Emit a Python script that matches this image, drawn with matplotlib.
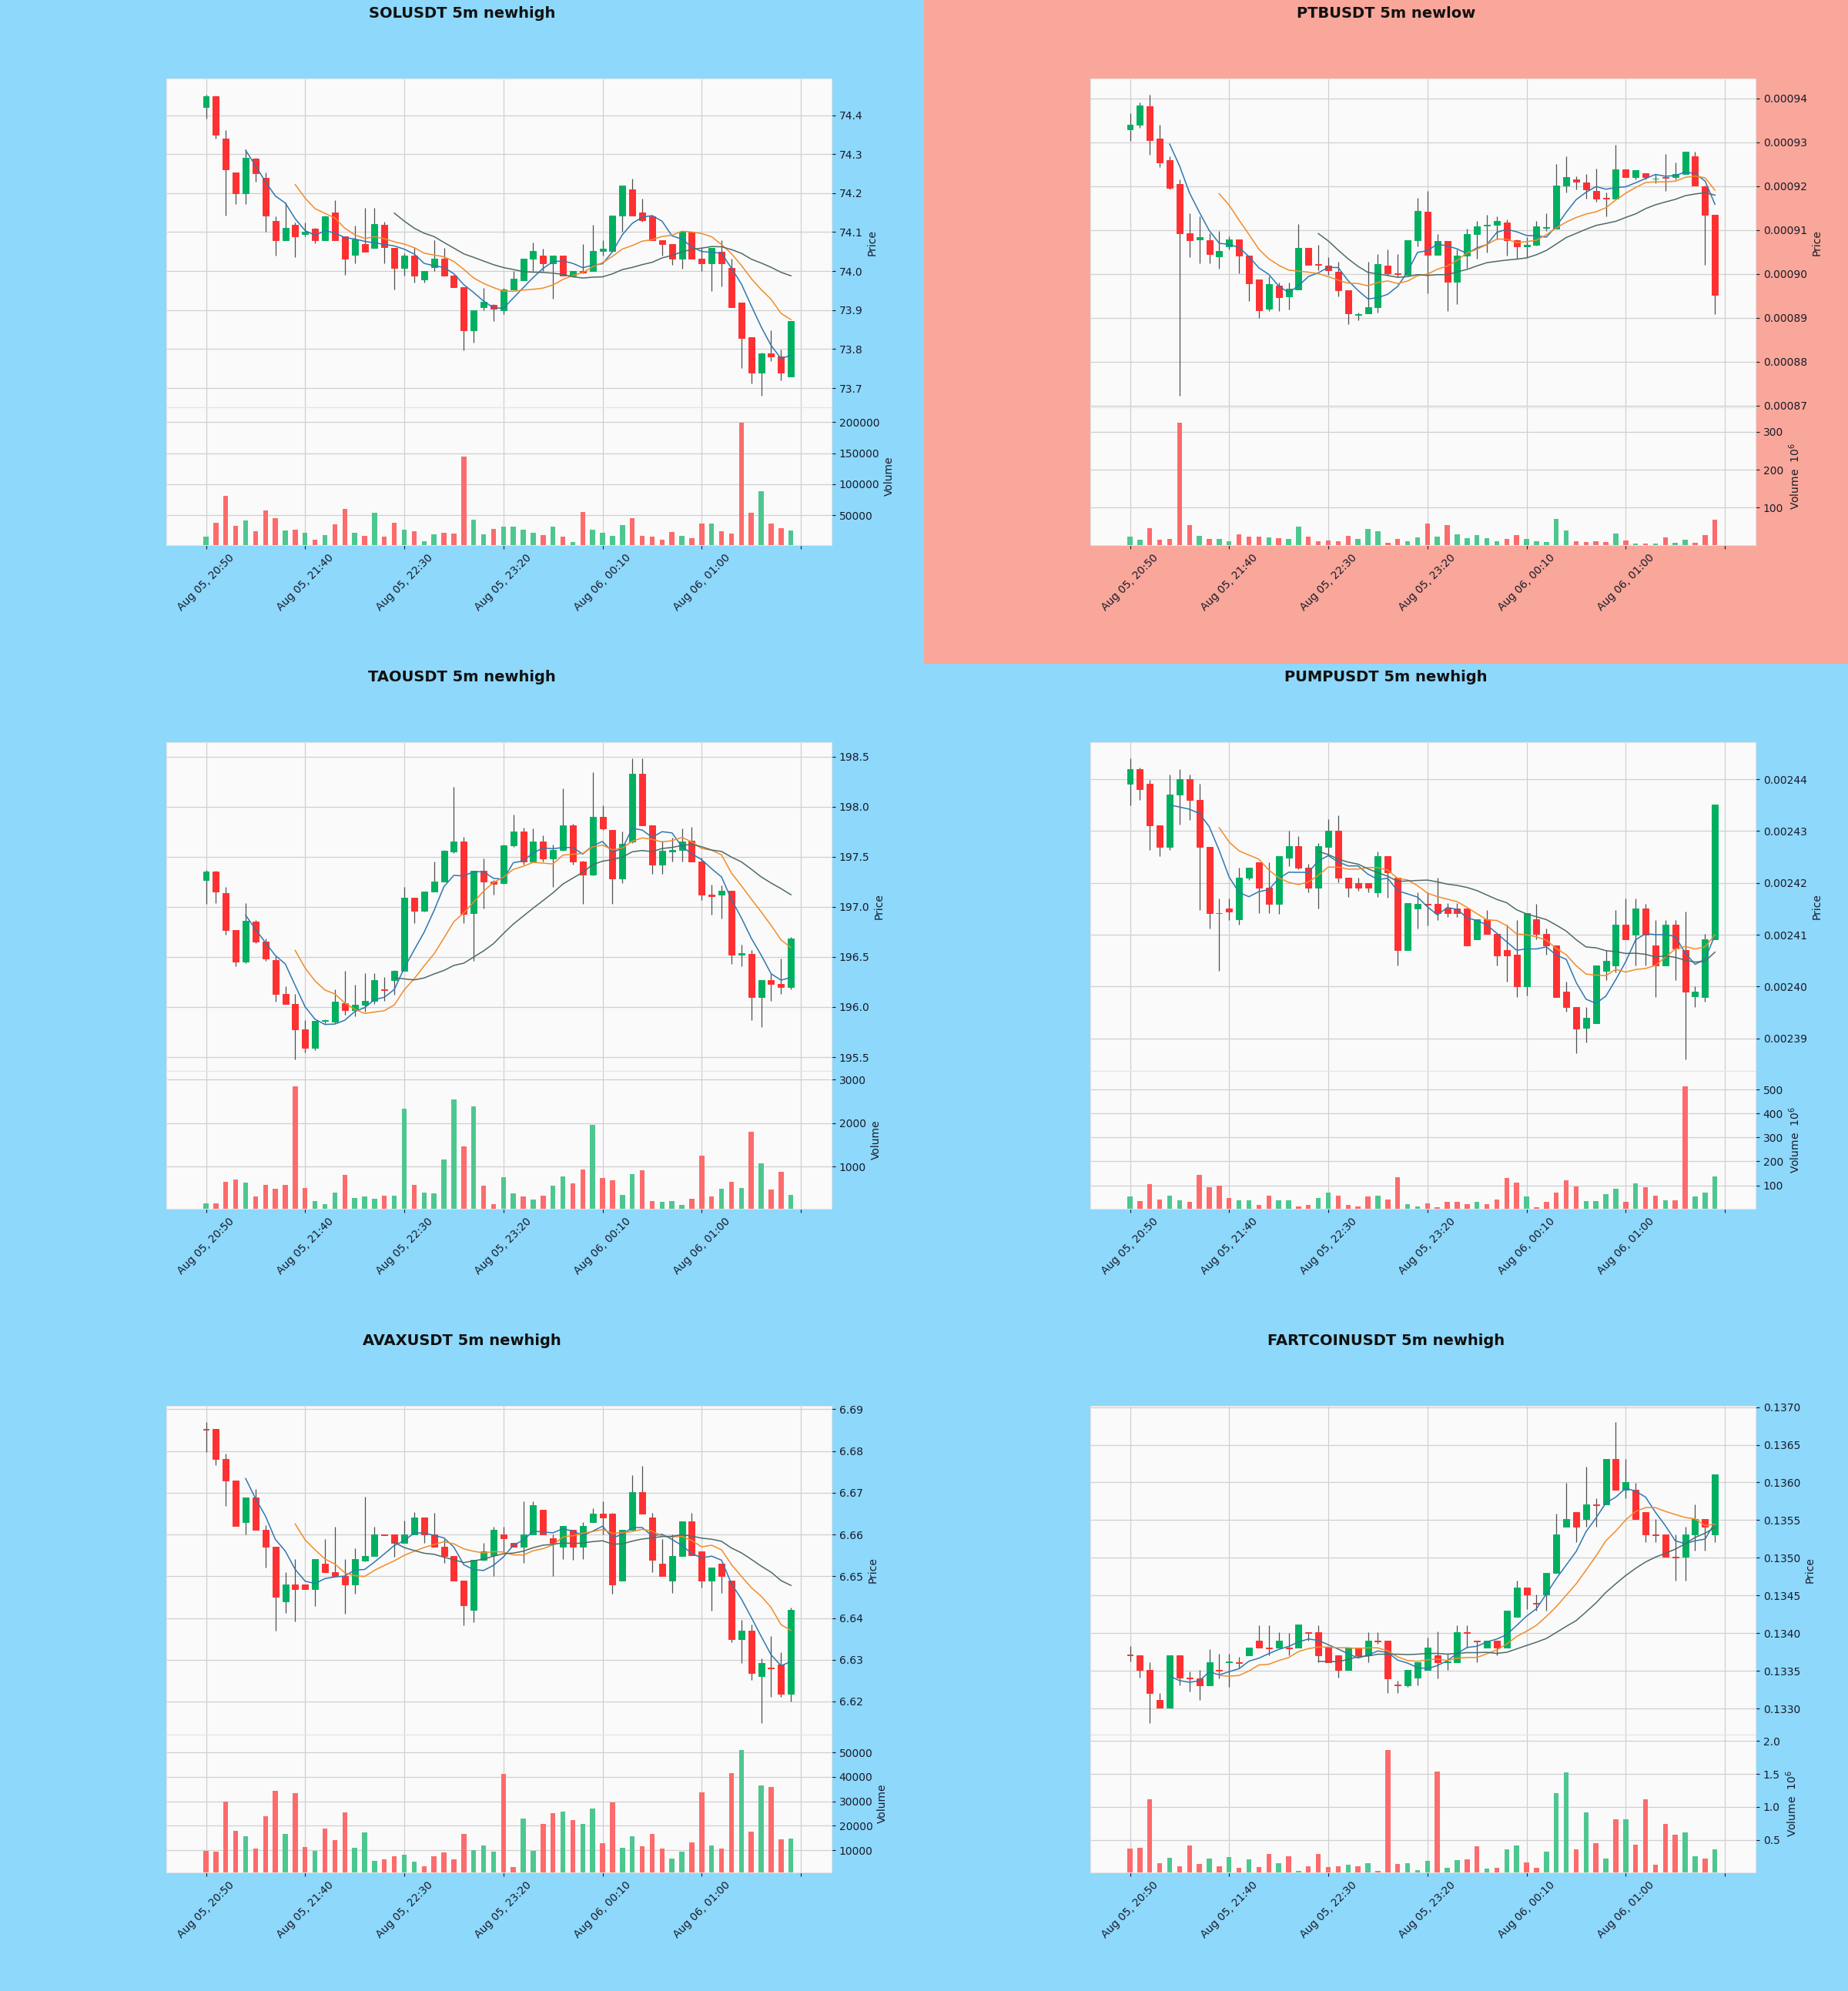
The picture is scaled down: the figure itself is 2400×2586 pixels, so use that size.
import numpy as np
import matplotlib.pyplot as plt
from matplotlib.ticker import MultipleLocator, FormatStrFormatter

TIME_LABELS = ["Aug 05, 20:50", "Aug 05, 21:40", "Aug 05, 22:30",
               "Aug 05, 23:20", "Aug 06, 00:10", "Aug 06, 01:00", ""]

UP = "#00b060"
DOWN = "#fe3032"
VOL_UP = "#4dc790"
VOL_DOWN = "#fd6b6c"
WICK = "#505050"
MA_COLORS = ["#2e78b0", "#f28c28", "#4f6b68"]
BLUE_BG = "#8dd8fb"
SALMON_BG = "#f8a79a"

###################################################
# SOLUSDT
###################################################
sol_open = [74.421, 74.449, 74.34, 74.252, 74.2, 74.289, 74.24, 74.128, 74.079, 74.119,
            74.095, 74.108, 74.079, 74.151, 74.089, 74.041, 74.07, 74.06, 74.119, 74.06,
            74.009, 74.04, 73.978, 74.01, 74.031, 73.988, 73.959, 73.848, 73.907, 73.913,
            73.9, 73.952, 73.977, 74.031, 74.04, 74.019, 74.04, 73.988, 74.0, 74.0,
            74.052, 74.052, 74.142, 74.21, 74.151, 74.141, 74.079, 74.07, 74.031, 74.1,
            74.031, 74.019, 74.05, 74.009, 73.92, 73.83, 73.74, 73.788, 73.781, 73.729]
sol_close = [74.449, 74.349, 74.26, 74.2, 74.291, 74.251, 74.142, 74.079, 74.11, 74.089,
             74.1, 74.079, 74.141, 74.079, 74.031, 74.081, 74.05, 74.12, 74.062, 74.009,
             74.04, 73.988, 74.0, 74.031, 73.988, 73.959, 73.848, 73.899, 73.921, 73.903,
             73.952, 73.98, 74.031, 74.052, 74.019, 74.04, 73.988, 74.0, 73.996, 74.052,
             74.058, 74.142, 74.219, 74.142, 74.13, 74.079, 74.07, 74.031, 74.1, 74.031,
             74.019, 74.06, 74.019, 73.908, 73.829, 73.74, 73.788, 73.781, 73.74, 73.872]
sol_high = [74.452, 74.45, 74.361, 74.252, 74.312, 74.291, 74.252, 74.14, 74.175, 74.125,
            74.124, 74.11, 74.143, 74.182, 74.09, 74.116, 74.163, 74.163, 74.126, 74.06,
            74.046, 74.062, 74.0, 74.079, 74.06, 73.99, 73.959, 73.899, 73.957, 73.916,
            73.957, 74.0, 74.031, 74.074, 74.058, 74.04, 74.04, 74.0, 74.07, 74.118,
            74.08, 74.142, 74.219, 74.238, 74.186, 74.141, 74.079, 74.07, 74.1, 74.1,
            74.06, 74.06, 74.079, 74.031, 73.92, 73.83, 73.79, 73.848, 73.798, 73.872]
sol_low = [74.392, 74.34, 74.142, 74.171, 74.171, 74.229, 74.1, 74.04, 74.079, 74.035,
           74.089, 74.071, 74.079, 74.079, 73.99, 74.019, 74.05, 74.06, 74.019, 73.952,
           73.988, 73.97, 73.97, 74.0, 73.988, 73.959, 73.796, 73.817, 73.9, 73.872,
           73.889, 73.952, 73.977, 74.0, 74.0, 73.93, 73.988, 73.984, 73.995, 74.0,
           74.04, 74.052, 74.1, 74.142, 74.126, 74.079, 74.04, 74.016, 74.006, 74.031,
           74.0, 73.949, 73.96, 73.908, 73.751, 73.712, 73.681, 73.77, 73.72, 73.729]
sol_volume = [15000, 38000, 81000, 33000, 41000, 24000, 58000, 45000, 25000, 26000,
              21000, 11000, 18000, 35000, 60000, 22000, 17000, 54000, 16000, 38000,
              26000, 24000, 8000, 19000, 22000, 20000, 145000, 43000, 19000, 28000,
              32000, 32000, 26000, 21000, 18000, 32000, 15000, 7000, 55000, 27000,
              22000, 17000, 34000, 45000, 17000, 15000, 11000, 23000, 17000, 13000,
              37000, 36000, 24000, 20000, 199000, 54000, 89000, 37000, 29000, 25000]

###################################################
# PTBUSDT (prices in 1e-5, volume in 1e6)
###################################################
ptb_open = [93.29, 93.40, 93.82, 93.08, 92.59, 92.05, 90.93, 90.79, 90.77, 90.40,
            90.62, 90.79, 90.42, 89.87, 89.20, 89.73, 89.49, 89.65, 90.59, 90.23,
            90.19, 90.04, 89.63, 89.07, 89.10, 89.24, 90.19, 90.02, 89.97, 90.76,
            91.41, 90.43, 90.75, 89.82, 90.42, 90.90, 91.10, 91.12, 91.17, 90.76,
            90.62, 90.66, 91.04, 91.03, 92.01, 92.16, 92.08, 91.89, 91.73, 91.72,
            92.39, 92.20, 92.30, 92.17, 92.20, 92.20, 92.28, 92.68, 91.99, 91.34]
ptb_close = [93.40, 93.84, 93.05, 92.54, 91.96, 90.92, 90.77, 90.83, 90.45, 90.52,
             90.79, 90.42, 89.79, 89.17, 89.77, 89.47, 89.66, 90.59, 90.21, 90.20,
             90.09, 89.63, 89.10, 89.09, 89.24, 90.23, 90.02, 90.00, 90.77, 91.43,
             90.43, 90.75, 89.82, 90.42, 90.90, 91.08, 91.12, 91.21, 90.77, 90.62,
             90.66, 91.08, 91.06, 92.01, 92.21, 92.10, 91.92, 91.71, 91.71, 92.39,
             92.20, 92.37, 92.20, 92.17, 92.19, 92.27, 92.78, 92.01, 91.34, 89.53]
ptb_high = [93.67, 93.90, 94.08, 93.40, 92.68, 92.16, 91.38, 91.31, 90.93, 90.98,
            90.86, 90.79, 90.42, 89.87, 89.94, 89.80, 89.80, 91.14, 90.59, 90.66,
            90.38, 90.28, 89.63, 89.12, 90.28, 90.45, 90.55, 90.45, 90.77, 91.73,
            91.89, 90.90, 90.75, 90.55, 91.03, 91.21, 91.34, 91.31, 91.24, 90.79,
            90.83, 91.21, 91.38, 92.51, 92.68, 92.23, 92.27, 92.40, 91.86, 92.94,
            92.39, 92.37, 92.30, 92.27, 92.73, 92.54, 92.78, 92.78, 92.01, 91.34]
ptb_low = [93.03, 93.33, 92.71, 92.44, 91.92, 87.23, 90.38, 90.25, 90.25, 90.11,
           90.55, 90.01, 89.39, 88.99, 89.15, 89.15, 89.18, 89.65, 90.21, 90.08,
           89.97, 89.49, 88.86, 88.95, 89.10, 89.12, 89.97, 89.95, 89.97, 90.62,
           89.56, 90.43, 89.15, 89.32, 90.14, 90.34, 90.49, 90.79, 90.42, 90.35,
           90.38, 90.64, 90.97, 91.03, 91.86, 91.92, 91.71, 91.65, 91.32, 91.72,
           92.20, 92.16, 92.16, 92.06, 91.89, 92.16, 92.28, 92.01, 90.21, 89.08]
ptb_volume = [23, 15, 45, 15, 16, 324, 54, 25, 16, 16,
              11, 29, 23, 23, 20, 19, 16, 49, 23, 11,
              12, 11, 25, 16, 43, 37, 7, 16, 11, 21,
              58, 23, 53, 29, 19, 27, 19, 11, 17, 28,
              17, 11, 8, 70, 39, 11, 9, 11, 9, 31,
              13, 5, 5, 4, 21, 7, 15, 7, 28, 67]

###################################################
# TAOUSDT
###################################################
tao_open = [197.27, 197.35, 197.14, 196.77, 196.45, 196.85, 196.65, 196.47, 196.13, 196.03,
            195.78, 195.59, 195.86, 195.85, 196.04, 195.97, 196.02, 196.06, 196.18, 196.27,
            196.36, 197.09, 196.96, 197.15, 197.25, 197.55, 197.65, 196.94, 197.36, 197.25,
            197.24, 197.61, 197.75, 197.45, 197.65, 197.48, 197.57, 197.81, 197.45, 197.32,
            197.90, 197.77, 197.28, 197.65, 198.33, 197.81, 197.42, 197.55, 197.57, 197.66,
            197.45, 197.12, 197.12, 197.16, 196.52, 196.53, 196.10, 196.27, 196.23, 196.20]
tao_close = [197.35, 197.15, 196.77, 196.45, 196.86, 196.65, 196.48, 196.13, 196.03, 195.78,
             195.59, 195.86, 195.87, 196.05, 195.97, 196.02, 196.06, 196.27, 196.17, 196.36,
             197.09, 196.96, 197.15, 197.25, 197.56, 197.65, 196.93, 197.36, 197.25, 197.23,
             197.61, 197.75, 197.45, 197.65, 197.48, 197.57, 197.81, 197.45, 197.32, 197.90,
             197.78, 197.28, 197.63, 198.33, 197.81, 197.42, 197.56, 197.57, 197.65, 197.45,
             197.12, 197.11, 197.16, 196.52, 196.54, 196.10, 196.27, 196.23, 196.20, 196.68]
tao_high = [197.37, 197.36, 197.20, 196.77, 197.04, 196.87, 196.68, 196.51, 196.21, 196.13,
            195.87, 195.86, 195.88, 196.18, 196.36, 196.22, 196.34, 196.34, 196.30, 196.37,
            197.20, 197.09, 197.15, 197.45, 197.57, 198.20, 197.70, 197.36, 197.48, 197.27,
            197.62, 197.92, 197.79, 197.78, 197.71, 197.62, 198.18, 197.83, 197.46, 198.34,
            198.01, 197.77, 197.75, 198.48, 198.48, 197.81, 197.66, 197.69, 197.78, 197.80,
            197.49, 197.22, 197.21, 197.16, 196.62, 196.57, 196.27, 196.33, 196.48, 196.70]
tao_low = [197.03, 197.04, 196.72, 196.41, 196.44, 196.64, 196.46, 196.05, 196.03, 195.48,
           195.55, 195.57, 195.84, 195.84, 195.92, 195.91, 195.95, 196.03, 196.06, 196.12,
           196.36, 196.84, 196.95, 197.15, 197.25, 197.54, 196.84, 196.46, 196.98, 197.12,
           197.23, 197.60, 197.42, 197.45, 197.45, 197.20, 197.56, 197.42, 197.03, 197.31,
           197.77, 197.03, 197.24, 197.64, 197.81, 197.33, 197.33, 197.45, 197.45, 197.45,
           197.07, 196.92, 196.88, 196.43, 196.41, 195.87, 195.80, 196.06, 196.13, 196.18]
tao_volume = [150, 150, 650, 700, 630, 310, 590, 500, 590, 2840,
              510, 210, 140, 410, 810, 290, 310, 270, 330, 330,
              2330, 590, 410, 380, 1160, 2540, 1460, 2390, 570, 140,
              760, 390, 310, 250, 330, 560, 770, 610, 940, 1960,
              750, 690, 360, 830, 910, 210, 200, 210, 130, 260,
              1260, 310, 500, 650, 510, 1810, 1080, 470, 890, 360]

###################################################
# PUMPUSDT (prices in 1e-5, volume in 1e6)
###################################################
pump_open = [243.92, 244.20, 243.91, 243.11, 242.70, 243.70, 244.00, 243.60, 242.70, 241.42,
             241.50, 241.30, 242.10, 242.40, 241.91, 241.60, 242.49, 242.71, 242.29, 241.91,
             242.70, 243.01, 242.10, 242.00, 242.00, 241.82, 242.51, 242.10, 240.71, 241.50,
             241.60, 241.60, 241.50, 241.50, 241.50, 240.91, 241.30, 241.01, 240.71, 240.62,
             240.00, 241.30, 241.01, 240.80, 239.90, 239.60, 239.20, 239.30, 240.31, 240.40,
             241.20, 241.00, 241.50, 240.80, 240.40, 241.20, 240.71, 239.82, 239.80, 240.91]
pump_close = [244.20, 243.81, 243.11, 242.70, 243.70, 244.00, 243.60, 242.70, 241.42, 241.41,
              241.44, 242.10, 242.30, 241.91, 241.60, 242.51, 242.71, 242.29, 241.91, 242.71,
              243.01, 242.10, 241.91, 241.91, 241.91, 242.51, 242.20, 240.71, 241.61, 241.60,
              241.58, 241.42, 241.42, 241.42, 240.80, 241.30, 241.01, 240.60, 240.60, 240.00,
              241.42, 241.01, 240.80, 239.80, 239.60, 239.19, 239.39, 240.40, 240.50, 241.20,
              240.91, 241.50, 241.00, 240.40, 241.20, 240.74, 239.90, 239.90, 240.91, 243.51]
pump_high = [244.40, 244.22, 243.99, 243.11, 244.09, 244.19, 244.09, 243.92, 242.70, 241.70,
             241.70, 242.29, 242.30, 242.40, 242.40, 242.51, 243.00, 242.90, 242.37, 242.77,
             243.23, 243.31, 242.10, 242.10, 242.00, 242.61, 242.51, 242.10, 241.61, 241.82,
             241.82, 242.10, 241.61, 241.61, 241.50, 241.30, 241.48, 241.01, 241.20, 241.29,
             241.42, 241.60, 241.12, 240.80, 240.09, 239.60, 239.60, 240.40, 240.71, 241.48,
             241.70, 241.70, 241.60, 241.29, 241.29, 241.29, 241.44, 240.01, 241.01, 243.51]
pump_low = [243.49, 243.60, 242.64, 242.51, 242.64, 243.12, 243.22, 241.48, 241.12, 240.30,
            241.29, 241.20, 242.05, 241.41, 241.41, 241.40, 242.32, 242.27, 241.82, 241.50,
            242.55, 242.01, 241.73, 241.85, 241.82, 241.73, 241.71, 240.40, 240.71, 241.12,
            241.18, 241.29, 241.35, 241.34, 240.80, 240.91, 241.01, 240.40, 240.09, 239.80,
            239.83, 240.91, 240.62, 239.80, 239.51, 238.72, 238.92, 239.30, 240.12, 240.27,
            240.91, 240.40, 240.40, 239.80, 240.40, 240.12, 238.60, 239.61, 239.71, 240.91]
pump_volume = [52, 35, 104, 42, 56, 39, 30, 143, 91, 100,
               48, 39, 39, 19, 56, 36, 39, 13, 19, 48,
               71, 56, 19, 13, 52, 56, 42, 134, 22, 13,
               26, 10, 30, 30, 22, 32, 22, 42, 130, 110,
               55, 10, 32, 71, 121, 95, 35, 35, 62, 87,
               32, 108, 91, 56, 36, 39, 513, 52, 71, 136]

###################################################
# AVAXUSDT
###################################################
avax_open = [6.6853, 6.6853, 6.678, 6.673, 6.663, 6.6689, 6.6611, 6.657, 6.644, 6.648,
             6.648, 6.647, 6.653, 6.651, 6.650, 6.648, 6.6538, 6.6549, 6.660, 6.660,
             6.658, 6.660, 6.664, 6.660, 6.657, 6.6549, 6.649, 6.642, 6.654, 6.655,
             6.660, 6.658, 6.657, 6.660, 6.666, 6.659, 6.657, 6.6611, 6.657, 6.663,
             6.665, 6.665, 6.649, 6.6611, 6.6702, 6.664, 6.653, 6.649, 6.6549, 6.6631,
             6.656, 6.649, 6.653, 6.649, 6.6349, 6.6369, 6.626, 6.6282, 6.6289, 6.6218]
avax_close = [6.6851, 6.678, 6.673, 6.662, 6.6689, 6.6611, 6.657, 6.6451, 6.648, 6.647,
              6.647, 6.6542, 6.651, 6.650, 6.648, 6.6542, 6.6549, 6.660, 6.6598, 6.658,
              6.660, 6.664, 6.660, 6.657, 6.6549, 6.649, 6.643, 6.654, 6.656, 6.6611,
              6.659, 6.657, 6.660, 6.667, 6.660, 6.658, 6.662, 6.657, 6.662, 6.665,
              6.664, 6.648, 6.6611, 6.6702, 6.665, 6.654, 6.650, 6.6549, 6.6631, 6.6551,
              6.649, 6.652, 6.650, 6.6349, 6.6369, 6.6269, 6.6293, 6.6279, 6.6218, 6.642]
avax_high = [6.6869, 6.6853, 6.6793, 6.673, 6.6689, 6.6709, 6.6622, 6.657, 6.6509, 6.6542,
             6.648, 6.6542, 6.6589, 6.6618, 6.6542, 6.6567, 6.6691, 6.6618, 6.660, 6.660,
             6.6633, 6.6653, 6.664, 6.6651, 6.6589, 6.6549, 6.649, 6.654, 6.658, 6.6618,
             6.6618, 6.658, 6.668, 6.668, 6.666, 6.660, 6.662, 6.6611, 6.6629, 6.6662,
             6.668, 6.6651, 6.6611, 6.6742, 6.6764, 6.6651, 6.6589, 6.660, 6.6631, 6.6651,
             6.656, 6.652, 6.653, 6.649, 6.6396, 6.6385, 6.6303, 6.6356, 6.6318, 6.6425]
avax_low = [6.6798, 6.6766, 6.6669, 6.662, 6.660, 6.6611, 6.652, 6.6369, 6.6412, 6.6391,
            6.647, 6.6429, 6.6509, 6.650, 6.6411, 6.6458, 6.6535, 6.6549, 6.6598, 6.6546,
            6.658, 6.660, 6.658, 6.6571, 6.6531, 6.649, 6.6382, 6.6389, 6.6538, 6.650,
            6.656, 6.657, 6.6531, 6.660, 6.660, 6.650, 6.6542, 6.654, 6.6542, 6.6631,
            6.660, 6.6458, 6.649, 6.6611, 6.6651, 6.6509, 6.650, 6.646, 6.6549, 6.6551,
            6.6473, 6.6418, 6.646, 6.6342, 6.6293, 6.6251, 6.6149, 6.6211, 6.6211, 6.620]
avax_volume = [9750, 9500, 30000, 18000, 15800, 10800, 23800, 34200, 16700, 33500,
               11400, 9750, 19000, 14200, 25600, 11000, 17300, 5700, 6300, 7600,
               8200, 5300, 3500, 7600, 9100, 6300, 16500, 10100, 12000, 9500,
               41400, 3200, 22800, 9750, 20900, 25300, 25900, 22400, 20900, 27000,
               12700, 29700, 11100, 15800, 11600, 16500, 10800, 6600, 9500, 13300,
               33800, 12000, 10500, 41500, 50900, 17700, 36500, 35800, 14300, 14600]

###################################################
# FARTCOINUSDT (prices in 1e-4, volume in 1e6)
###################################################
fart_open = [1337.2, 1337.1, 1335.1, 1331.1, 1330.1, 1337.1, 1334.1, 1334.0, 1333.1, 1335.1,
             1336.1, 1336.1, 1337.1, 1339.0, 1338.1, 1338.1, 1338.1, 1338.1, 1340.1, 1340.1,
             1338.1, 1337.1, 1335.1, 1338.1, 1337.1, 1339.0, 1339.0, 1333.2, 1333.1, 1334.1,
             1335.1, 1337.1, 1336.1, 1336.1, 1340.1, 1339.0, 1338.1, 1339.0, 1338.1, 1342.2,
             1346.1, 1344.0, 1345.1, 1348.0, 1354.1, 1356.1, 1355.1, 1357.1, 1357.1, 1363.1,
             1359.0, 1359.0, 1356.1, 1353.1, 1353.1, 1350.1, 1350.1, 1353.1, 1355.1, 1353.1]
fart_close = [1337.1, 1335.1, 1332.1, 1330.1, 1337.1, 1334.1, 1334.0, 1333.1, 1336.1, 1335.0,
              1336.2, 1336.0, 1338.1, 1338.1, 1338.0, 1339.0, 1338.0, 1341.1, 1340.0, 1337.1,
              1336.1, 1335.1, 1338.1, 1337.1, 1339.0, 1338.9, 1334.0, 1333.1, 1335.1, 1336.1,
              1338.1, 1336.1, 1336.2, 1340.1, 1340.0, 1338.9, 1339.0, 1338.1, 1343.0, 1346.1,
              1345.1, 1343.9, 1348.0, 1353.1, 1355.1, 1354.1, 1357.1, 1357.0, 1363.1, 1359.0,
              1360.0, 1355.1, 1353.1, 1353.0, 1350.1, 1350.0, 1353.1, 1355.1, 1354.1, 1361.1]
fart_high = [1338.3, 1337.1, 1336.1, 1332.1, 1337.1, 1337.1, 1334.9, 1335.1, 1337.9, 1337.3,
             1337.3, 1336.9, 1338.1, 1341.0, 1341.0, 1340.1, 1340.0, 1341.0, 1340.1, 1341.0,
             1338.1, 1337.1, 1338.1, 1338.1, 1340.1, 1340.1, 1339.0, 1333.7, 1335.1, 1336.1,
             1339.4, 1340.2, 1337.3, 1341.0, 1341.0, 1339.0, 1339.0, 1339.0, 1343.0, 1347.0,
             1346.1, 1345.1, 1348.0, 1355.9, 1359.9, 1356.1, 1362.1, 1357.9, 1363.1, 1368.0,
             1363.1, 1359.9, 1356.1, 1355.1, 1353.1, 1353.1, 1354.1, 1357.1, 1355.1, 1361.1]
fart_low = [1336.2, 1334.1, 1328.1, 1330.1, 1330.1, 1333.1, 1332.3, 1331.1, 1333.1, 1334.0,
            1332.9, 1335.3, 1337.1, 1338.1, 1337.1, 1338.1, 1337.1, 1338.1, 1339.0, 1336.1,
            1336.1, 1334.1, 1335.1, 1337.1, 1336.1, 1338.6, 1332.1, 1332.1, 1332.9, 1333.1,
            1335.1, 1334.0, 1335.1, 1336.1, 1338.1, 1336.1, 1338.1, 1337.1, 1338.1, 1342.2,
            1343.2, 1343.0, 1343.0, 1348.0, 1354.1, 1352.1, 1354.1, 1354.1, 1357.1, 1359.0,
            1357.9, 1355.1, 1352.1, 1352.1, 1350.1, 1347.0, 1347.0, 1351.0, 1351.0, 1352.1]
fart_volume = [0.37, 0.38, 1.12, 0.15, 0.23, 0.10, 0.42, 0.13, 0.22, 0.10,
               0.24, 0.08, 0.20, 0.09, 0.28, 0.15, 0.25, 0.03, 0.10, 0.28,
               0.09, 0.10, 0.12, 0.10, 0.15, 0.03, 1.86, 0.13, 0.14, 0.04,
               0.18, 1.54, 0.08, 0.19, 0.20, 0.40, 0.06, 0.08, 0.36, 0.42,
               0.16, 0.08, 0.32, 1.21, 1.52, 0.35, 0.92, 0.45, 0.21, 0.81,
               0.81, 0.43, 1.12, 0.12, 0.74, 0.58, 0.61, 0.25, 0.21, 0.35]


###################################################
# Drawing
###################################################
def draw_panel(sub, title, o, h, l, c, v, scale,
               p_step, p_fmt, v_step, v_fmt, v_label, bg):
    o = np.array(o) * scale
    c = np.array(c) * scale
    h = np.maximum(np.array(h) * scale, np.maximum(o, c))
    l = np.minimum(np.array(l) * scale, np.minimum(o, c))
    v = np.array(v, dtype=float)
    n = len(o)
    x = np.arange(n)
    up = c >= o

    sub.set_facecolor(bg)
    sub.suptitle(title, fontsize=14, fontweight="bold", y=0.980,
                 va="center", color="#111111")

    ax = sub.add_axes([0.18, 0.386, 0.72, 0.496])
    axv = sub.add_axes([0.18, 0.179, 0.72, 0.207], sharex=ax)

    for a in (ax, axv):
        a.set_facecolor("#fafafa")
        a.grid(True, color="#d0d0d0", linestyle="-", linewidth=0.9)
        a.set_axisbelow(True)
        a.yaxis.tick_right()
        a.yaxis.set_label_position("right")
        a.tick_params(labelsize=10, colors="#1a1a2a")
        for s in a.spines.values():
            s.set_color("#e4e4e4")

    # wicks and bodies
    ax.vlines(x, l, h, color=WICK, linewidth=0.9, zorder=2)
    cols = np.where(up, UP, DOWN)
    ax.bar(x, c - o, bottom=o, width=0.62, color=cols, edgecolor=cols,
           linewidth=0.7, zorder=3)

    # moving averages
    for w, mc in zip((5, 10, 20), MA_COLORS):
        ma = np.convolve(c, np.ones(w) / w, mode="valid")
        ax.plot(x[w - 1:], ma, color=mc, linewidth=1.1, zorder=4)

    rng = h.max() - l.min()
    ax.set_ylim(l.min() - 0.04 * rng, h.max() + 0.055 * rng)
    ax.yaxis.set_major_locator(MultipleLocator(p_step))
    ax.yaxis.set_major_formatter(FormatStrFormatter(p_fmt))
    ax.set_ylabel("Price", fontsize=10, color="#1a1a2a")
    ax.tick_params(axis="x", labelbottom=False, bottom=False)

    vcols = np.where(up, VOL_UP, VOL_DOWN)
    axv.bar(x, v, width=0.5, color=vcols, zorder=3)
    axv.set_ylim(0.3 * v.min(), 1.125 * v.max())
    axv.yaxis.set_major_locator(MultipleLocator(v_step))
    axv.yaxis.set_major_formatter(FormatStrFormatter(v_fmt))
    axv.set_ylabel(v_label, fontsize=10, color="#1a1a2a")

    axv.set_xlim(-4.0, 63.1)
    axv.set_xticks(np.arange(0, 61, 10))
    axv.set_xticklabels(TIME_LABELS, rotation=45, ha="center", fontsize=10)


fig = plt.figure(figsize=(24, 25.86), dpi=100)
subs = fig.subfigures(3, 2, wspace=0, hspace=0)

draw_panel(subs[0, 0], "SOLUSDT 5m newhigh", sol_open, sol_high, sol_low,
           sol_close, sol_volume, 1.0, 0.1, "%.1f", 50000, "%d", "Volume",
           BLUE_BG)
draw_panel(subs[0, 1], "PTBUSDT 5m newlow", ptb_open, ptb_high, ptb_low,
           ptb_close, ptb_volume, 1e-5, 1e-5, "%.5f", 100, "%d",
           "Volume  $10^{6}$", SALMON_BG)
draw_panel(subs[1, 0], "TAOUSDT 5m newhigh", tao_open, tao_high, tao_low,
           tao_close, tao_volume, 1.0, 0.5, "%.1f", 1000, "%d", "Volume",
           BLUE_BG)
draw_panel(subs[1, 1], "PUMPUSDT 5m newhigh", pump_open, pump_high, pump_low,
           pump_close, pump_volume, 1e-5, 1e-5, "%.5f", 100, "%d",
           "Volume  $10^{6}$", BLUE_BG)
draw_panel(subs[2, 0], "AVAXUSDT 5m newhigh", avax_open, avax_high, avax_low,
           avax_close, avax_volume, 1.0, 0.01, "%.2f", 10000, "%d", "Volume",
           BLUE_BG)
draw_panel(subs[2, 1], "FARTCOINUSDT 5m newhigh", fart_open, fart_high,
           fart_low, fart_close, fart_volume, 1e-4, 0.0005, "%.4f", 0.5,
           "%.1f", "Volume  $10^{6}$", BLUE_BG)

fig.savefig("out.png", dpi=100, facecolor=fig.get_facecolor())
plt.close(fig)
